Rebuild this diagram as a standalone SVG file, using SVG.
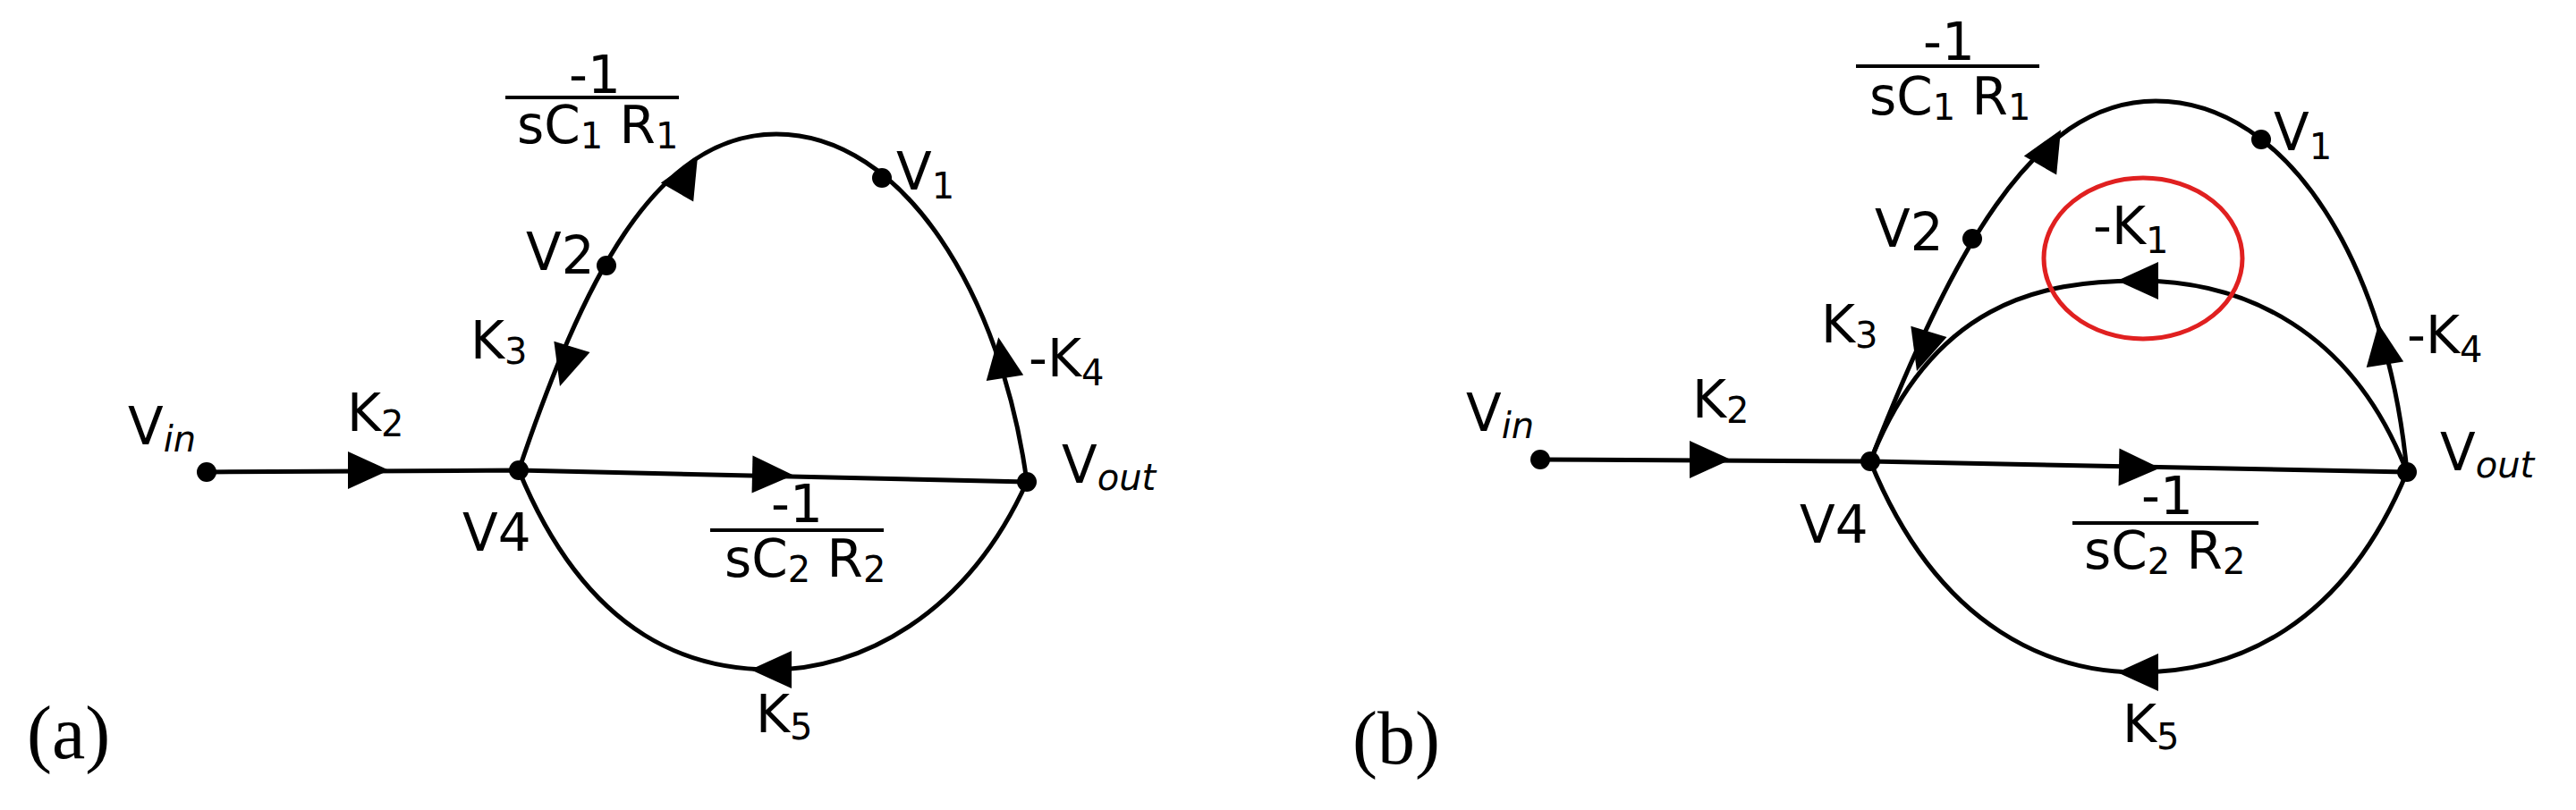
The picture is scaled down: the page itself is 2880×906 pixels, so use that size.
<svg xmlns="http://www.w3.org/2000/svg" xmlns:xlink="http://www.w3.org/1999/xlink" width="2880" height="906" viewBox="0 0 2880 906">
<style>
.e{fill:none;stroke:#000;stroke-width:5}
.t{font-family:"DejaVu Sans","Liberation Sans",sans-serif;font-size:58px;fill:#000}
.s{font-size:40px}
.i{font-style:italic}
.p{font-family:"Liberation Serif",serif;font-size:84px}
</style>
<defs>
<path id="arr" d="M-22,-21 L24,0 L-22,21 Z" fill="#000"/>
</defs>
<rect width="2880" height="906" fill="#fff"/>
<g id="connectors">
<path class="e" d="M231,528 L580,526 M580,526 L1148,539"/>
<path class="e" d="M580,526 C650,320 730,150 868,150 C1010,150 1120,330 1148,539"/>
<path class="e" d="M580,526 C660,720 780,749 863,749 C960,749 1080,690 1148,539"/>
<use href="#arr" transform="translate(411,526)"/>
<use href="#arr" transform="translate(633,409) rotate(107)"/>
<use href="#arr" transform="translate(768,196) rotate(-60)"/>
<use href="#arr" transform="translate(1120,401) rotate(-99)"/>
<use href="#arr" transform="translate(863,531) rotate(1.3)"/>
<use href="#arr" transform="translate(863,749) rotate(180)"/>
<path class="e" d="M1722,514 L2091,516 M2091,516 L2691,528"/>
<path class="e" d="M2091,516 C2180,290 2270,113 2410,113 C2560,113 2670,300 2691,528"/>
<path class="e" d="M2091,516 C2160,340 2280,314 2391,314 C2510,314 2630,370 2691,528"/>
<path class="e" d="M2091,516 C2170,710 2300,752 2391,752 C2500,752 2620,700 2691,528"/>
<use href="#arr" transform="translate(1911,514)"/>
<use href="#arr" transform="translate(2150,392) rotate(107)"/>
<use href="#arr" transform="translate(2292,166) rotate(-60)"/>
<use href="#arr" transform="translate(2663,386) rotate(-99)"/>
<use href="#arr" transform="translate(2391,523) rotate(1.2)"/>
<use href="#arr" transform="translate(2391,752) rotate(180)"/>
<use href="#arr" transform="translate(2391,314) rotate(180)"/>
<ellipse cx="2396" cy="289" rx="111" ry="90" fill="none" stroke="#e02020" stroke-width="5"/>
</g>
<g id="nodes-a">
<g id="a-vin"><circle cx="231" cy="528" r="11"/><text class="t" x="143" y="497">V<tspan class="s i" dy="8">in</tspan></text></g>
<g id="a-v4"><circle cx="580" cy="526" r="11"/><text class="t" x="517" y="616">V4</text></g>
<g id="a-vout"><circle cx="1148" cy="539" r="11"/><text class="t" x="1187" y="540">V<tspan class="s i" dy="8">out</tspan></text></g>
<g id="a-v2"><circle cx="678" cy="297" r="11"/><text class="t" x="588" y="302">V<tspan dy="4">2</tspan></text></g>
<g id="a-v1"><circle cx="986" cy="199" r="11"/><text class="t" x="1002" y="212">V<tspan class="s" dy="10">1</tspan></text></g>
</g>
<g id="labels-a">
<text class="t" x="388" y="482">K<tspan class="s" dy="6">2</tspan></text>
<text class="t" x="526" y="401">K<tspan class="s" dy="6">3</tspan></text>
<text class="t" x="1150" y="421">-K<tspan class="s" dy="10">4</tspan></text>
<text class="t" x="845" y="819">K<tspan class="s" dy="8">5</tspan></text>
<text class="t" x="665" y="104" text-anchor="middle">-1</text>
<line x1="565" y1="109" x2="759" y2="109" stroke="#000" stroke-width="4"/>
<text class="t" x="578" y="160">sC<tspan class="s" dy="6">1</tspan><tspan dy="-6"> R</tspan><tspan class="s" dy="6">1</tspan></text>
<text class="t" x="891" y="584" text-anchor="middle">-1</text>
<line x1="794" y1="593" x2="988" y2="593" stroke="#000" stroke-width="4"/>
<text class="t" x="810" y="645">sC<tspan class="s" dy="6">2</tspan><tspan dy="-6"> R</tspan><tspan class="s" dy="6">2</tspan></text>
<text class="t p" x="30" y="848">(a)</text>
</g>
<g id="nodes-b">
<g id="b-vin"><circle cx="1722" cy="514" r="11"/><text class="t" x="1639" y="482">V<tspan class="s i" dy="8">in</tspan></text></g>
<g id="b-v4"><circle cx="2091" cy="516" r="11"/><text class="t" x="2012" y="607">V4</text></g>
<g id="b-vout"><circle cx="2691" cy="528" r="11"/><text class="t" x="2728" y="526">V<tspan class="s i" dy="8">out</tspan></text></g>
<g id="b-v2"><circle cx="2205" cy="267" r="11"/><text class="t" x="2096" y="276">V<tspan dy="4">2</tspan></text></g>
<g id="b-v1"><circle cx="2528" cy="156" r="11"/><text class="t" x="2542" y="168">V<tspan class="s" dy="10">1</tspan></text></g>
</g>
<g id="labels-b">
<text class="t" x="1892" y="467">K<tspan class="s" dy="6">2</tspan></text>
<text class="t" x="2036" y="383">K<tspan class="s" dy="6">3</tspan></text>
<text class="t" x="2340" y="273">-K<tspan class="s" dy="10">1</tspan></text>
<text class="t" x="2691" y="395">-K<tspan class="s" dy="10">4</tspan></text>
<text class="t" x="2373" y="830">K<tspan class="s" dy="8">5</tspan></text>
<text class="t" x="2179" y="67" text-anchor="middle">-1</text>
<line x1="2075" y1="74" x2="2280" y2="74" stroke="#000" stroke-width="4"/>
<text class="t" x="2090" y="128">sC<tspan class="s" dy="6">1</tspan><tspan dy="-6"> R</tspan><tspan class="s" dy="6">1</tspan></text>
<text class="t" x="2423" y="575" text-anchor="middle">-1</text>
<line x1="2317" y1="585" x2="2525" y2="585" stroke="#000" stroke-width="4"/>
<text class="t" x="2330" y="636">sC<tspan class="s" dy="6">2</tspan><tspan dy="-6"> R</tspan><tspan class="s" dy="6">2</tspan></text>
<text class="t p" x="1512" y="854">(b)</text>
</g>
</svg>
